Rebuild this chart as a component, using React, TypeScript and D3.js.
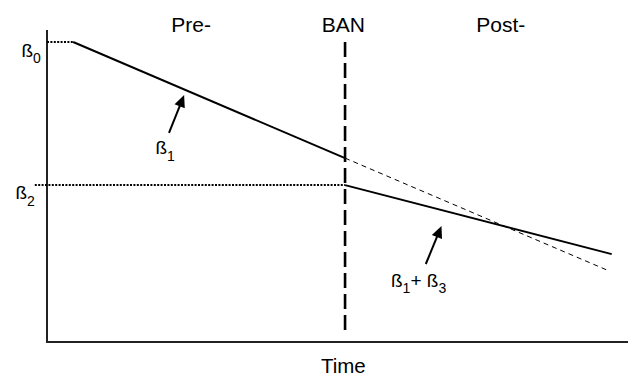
import React from "react";
import * as d3 from "d3";

const W = 628;
const H = 377;
const margin = { top: 30, right: 0, bottom: 35, left: 47 };

// period headers (label, time position of label centre)
const periodLabels = ["Pre-", "BAN", "Post-"];
const periodTimes = [24.8, 51.0, 78.1];

// interrupted time series segments (time, level)
const banTime = 51.3;
const preLine = [
  { t: 4.5, v: 100 },
  { t: 51.3, v: 61.3 }
];
const postLine = [
  { t: 51.3, v: 52.3 },
  { t: 97.2, v: 29.3 }
];
const counterfactual = [
  { t: 51.3, v: 61.3 },
  { t: 96.6, v: 23.8 }
];
const beta0Guide = [
  { t: 0, v: 100 },
  { t: 4.5, v: 100 }
];
const beta2Guide = [
  { t: -2.1, v: 52.3 },
  { t: 51.3, v: 52.3 }
];
const banRange = [100, 4];

// annotation arrows: tail -> tip
const arrows = [
  [
    { t: 21.0, v: 69.7 },
    { t: 23.6, v: 82.3 }
  ],
  [
    { t: 65.2, v: 26.0 },
    { t: 67.9, v: 38.7 }
  ]
];

const FONT = "'Liberation Sans', Arial, sans-serif";

const Beta = ({ x, y, sub }: { x: number; y: number; sub: string }) => (
  <>
    <tspan x={x} y={y} fontSize={19}>
      ß
    </tspan>
    <tspan dy={6.5} fontSize={14}>
      {sub}
    </tspan>
  </>
);

const App = () => {
  const x = d3
    .scaleLinear()
    .domain([0, 100])
    .range([margin.left, margin.left + 581]);

  const y = d3
    .scaleLinear()
    .domain([0, 104])
    .range([H - margin.bottom, margin.top]);

  const line = d3
    .line<{ t: number; v: number }>()
    .x((d) => x(d.t))
    .y((d) => y(d.v));

  const arrowHead = (a: { t: number; v: number }[]) => {
    const [p0, p1] = a.map((d) => [x(d.t), y(d.v)]);
    const dx = p1[0] - p0[0];
    const dy = p1[1] - p0[1];
    const len = Math.hypot(dx, dy);
    const ux = dx / len;
    const uy = dy / len;
    const hl = 12;
    const hw = 5.5;
    const bx = p1[0] - ux * hl;
    const by = p1[1] - uy * hl;
    return {
      shaft: `M${p0[0]},${p0[1]}L${bx + ux * 2},${by + uy * 2}`,
      head: `M${p1[0]},${p1[1]}L${bx - uy * hw},${by + ux * hw}L${bx + uy * hw},${by - ux * hw}Z`
    };
  };

  const x0 = x(0);
  const yBase = y(0);

  return (
    <svg
      width={W}
      height={H}
      style={{ position: "absolute", left: 0, top: 0, background: "#fff" }}
      fontFamily={FONT}
    >
      {/* axes */}
      <line x1={x0} x2={x0} y1={margin.top} y2={yBase + 1} stroke="#222" strokeWidth={2} />
      <line x1={x0} x2={W} y1={yBase} y2={yBase} stroke="#222" strokeWidth={2} />

      {/* period headers */}
      {periodLabels.map((l, i) => (
        <text key={l} x={x(periodTimes[i])} y={31.5} textAnchor="middle" fontSize={21}>
          {l}
        </text>
      ))}

      {/* ban line */}
      <line
        x1={x(banTime)}
        x2={x(banTime)}
        y1={y(banRange[0])}
        y2={y(banRange[1])}
        stroke="#000"
        strokeWidth={2.6}
        strokeDasharray="15 6"
      />

      {/* guides */}
      <path d={line(beta0Guide) || ""} stroke="#000" strokeWidth={2} strokeDasharray="2 1.4" fill="none" />
      <path d={line(beta2Guide) || ""} stroke="#000" strokeWidth={2} strokeDasharray="2 1.4" fill="none" />

      {/* counterfactual */}
      <path d={line(counterfactual) || ""} stroke="#000" strokeWidth={1} strokeDasharray="5 4" fill="none" />

      {/* segments */}
      <path d={line(preLine) || ""} stroke="#000" strokeWidth={2} fill="none" />
      <path d={line(postLine) || ""} stroke="#000" strokeWidth={2} fill="none" />

      {/* arrows */}
      {arrows.map((a, i) => {
        const { shaft, head } = arrowHead(a);
        return (
          <g key={i}>
            <path d={shaft} stroke="#000" strokeWidth={2} fill="none" />
            <path d={head} fill="#000" />
          </g>
        );
      })}

      {/* coefficient labels */}
      <text>
        <Beta x={21.5} y={56.7} sub="0" />
      </text>
      <text>
        <Beta x={15.5} y={199.3} sub="2" />
      </text>
      <text>
        <Beta x={155.5} y={154} sub="1" />
      </text>
      <text>
        <Beta x={391} y={286.7} sub="1" />
        <tspan dy={-6.5} fontSize={19}>
          +
        </tspan>
        <tspan fontSize={19}> ß</tspan>
        <tspan dy={6.5} fontSize={14}>
          3
        </tspan>
      </text>

      {/* axis title */}
      <text x={x(51.0)} y={372.5} textAnchor="middle" fontSize={20.5}>
        Time
      </text>
    </svg>
  );
};

export default App;
